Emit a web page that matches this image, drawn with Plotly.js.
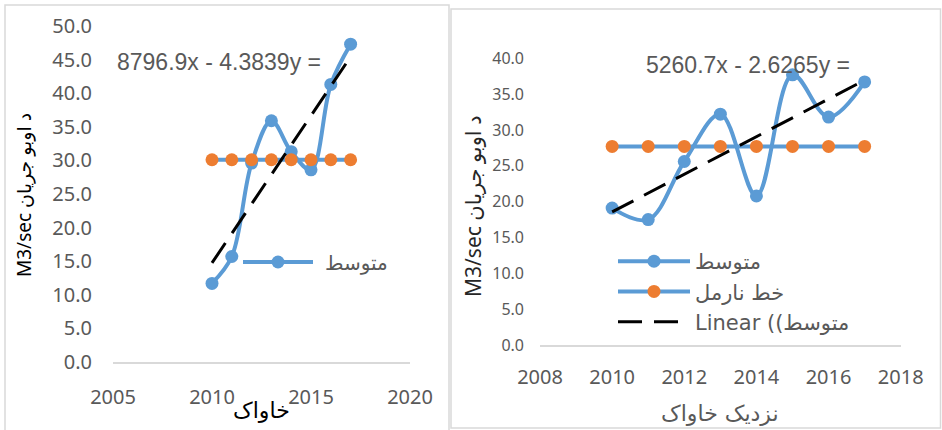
<!DOCTYPE html>
<html>
<head>
<meta charset="utf-8">
<script src="https://cdn.plot.ly/plotly-3.0.1.min.js"></script>
<style>html,body{margin:0;padding:0;background:#fff;}#chart{width:942px;height:430px;}</style>
</head>
<body>
<div id="chart"></div>
<script>
// ---- data ----
const years = [2010, 2011, 2012, 2013, 2014, 2015, 2016, 2017];
const leftMean = [11.7, 15.7, 29.6, 35.9, 31.3, 28.6, 41.3, 47.3];
const leftNormal = [30.1, 30.1, 30.1, 30.1, 30.1, 30.1, 30.1, 30.1];
const leftTrendCoef = [4.3839, -8796.9];   // slope, intercept (from the chart's equation)
const rightMean = [19.1, 17.5, 25.6, 32.2, 20.8, 37.7, 31.8, 36.7];
const rightNormal = [27.7, 27.7, 27.7, 27.7, 27.7, 27.7, 27.7, 27.7];
const rightTrendCoef = [2.6265, -5260.7];
const seriesNames = ['متوسط', 'خط نارمل', 'Linear ((متوسط'];
const leftEquation = '8796.9x - 4.3839y =';
const rightEquation = '5260.7x - 2.6265y =';
const yTitle = 'M3/sec د اوبو جریان';
const leftXTitle = 'خاواک';
const rightXTitle = 'نزدیک خاواک';

const trendX = [years[0], years[years.length - 1]];
const trendY = c => trendX.map(x => c[0] * x + c[1]);

const W = 942, H = 430;
const px = v => v / W, py = v => 1 - v / H;

const BLUE = '#5B9BD5', ORANGE = '#ED7D31', GRAY = '#595959';
const tickFont = {family: 'Noto Sans, DejaVu Sans, sans-serif', size: 20, color: GRAY};
const arFont = {family: 'DejaVu Sans, Noto Sans, sans-serif'};
const DASH = '24px,12px';

const traces = [
  {x: years, y: leftMean, xaxis: 'x', yaxis: 'y', mode: 'lines+markers', name: seriesNames[0],
   line: {color: BLUE, width: 4, shape: 'spline', smoothing: 1}, marker: {color: BLUE, size: 13},
   legend: 'legend'},
  {x: years, y: leftNormal, xaxis: 'x', yaxis: 'y', mode: 'lines+markers', name: seriesNames[1],
   line: {color: BLUE, width: 4}, marker: {color: ORANGE, size: 13}, showlegend: false},
  {x: trendX, y: trendY(leftTrendCoef), xaxis: 'x', yaxis: 'y', mode: 'lines', name: seriesNames[2],
   line: {color: '#000', width: 3, dash: DASH}, showlegend: false},
  {x: years, y: rightMean, xaxis: 'x2', yaxis: 'y2', mode: 'lines+markers', name: seriesNames[0],
   line: {color: BLUE, width: 4, shape: 'spline', smoothing: 1}, marker: {color: BLUE, size: 13},
   legend: 'legend2'},
  {x: years, y: rightNormal, xaxis: 'x2', yaxis: 'y2', mode: 'lines+markers', name: seriesNames[1],
   line: {color: BLUE, width: 4}, marker: {color: ORANGE, size: 13}, legend: 'legend2'},
  {x: trendX, y: trendY(rightTrendCoef), xaxis: 'x2', yaxis: 'y2', mode: 'lines', name: seriesNames[2],
   line: {color: '#000', width: 3, dash: DASH}, legend: 'legend2'}
];

const ann = (text, x, y, font, extra) => Object.assign({
  text: text, xref: 'paper', yref: 'paper', x: px(x), y: py(y), xanchor: 'center', yanchor: 'middle',
  showarrow: false, font: font}, extra || {});

const layout = {
  width: W, height: H,
  margin: {l: 0, r: 0, t: 0, b: 0},
  paper_bgcolor: '#fff', plot_bgcolor: 'rgba(0,0,0,0)',
  xaxis: {domain: [px(113), px(410)], range: [2005, 2020], dtick: 5, tick0: 2005,
          showgrid: false, zeroline: false, showline: true, linecolor: '#d9d9d9', linewidth: 1.5,
          ticks: '', tickfont: tickFont, ticklabelstandoff: 16, anchor: 'y', fixedrange: true},
  yaxis: {domain: [py(362), py(26)], range: [0, 50], dtick: 5, tickformat: '.1f',
          showgrid: false, zeroline: false, showline: false, ticks: '', tickfont: tickFont,
          ticklabelstandoff: 20, anchor: 'x', fixedrange: true},
  xaxis2: {domain: [px(540), px(900.7)], range: [2008, 2018], dtick: 2, tick0: 2008,
          showgrid: false, zeroline: false, showline: true, linecolor: '#d9d9d9', linewidth: 1.5,
          ticks: '', tickfont: tickFont, ticklabelstandoff: 13, anchor: 'y2', fixedrange: true},
  yaxis2: {domain: [py(345), py(58.3)], range: [0, 40], dtick: 5, tickformat: '.1f',
          showgrid: false, zeroline: false, showline: false, ticks: '',
          tickfont: Object.assign({}, tickFont, {size: 16}), ticklabelstandoff: 15, anchor: 'x2', fixedrange: true},
  legend: {x: px(238), xanchor: 'left', y: py(262), yanchor: 'middle', bgcolor: 'rgba(0,0,0,0)',
           font: Object.assign({}, arFont, {size: 20, color: GRAY}), itemwidth: 77, borderwidth: 0},
  legend2: {x: px(613), xanchor: 'left', y: py(291.5), yanchor: 'middle', bgcolor: 'rgba(0,0,0,0)',
           font: Object.assign({}, arFont, {size: 21, color: GRAY}), itemwidth: 72, borderwidth: 0},
  shapes: [
    {type: 'rect', xref: 'paper', yref: 'paper', x0: px(5), x1: px(449), y0: py(440), y1: py(5),
     line: {color: '#d9d9d9', width: 1.5}, layer: 'below'},
    {type: 'rect', xref: 'paper', yref: 'paper', x0: px(451), x1: px(940.5), y0: py(428), y1: py(9),
     line: {color: '#d9d9d9', width: 1.5}, layer: 'below'}
  ],
  annotations: [
    ann(leftEquation, 219, 62, {family: 'Liberation Sans, Arial, sans-serif', size: 23, color: GRAY}),
    ann(rightEquation, 748, 65, {family: 'Liberation Sans, Arial, sans-serif', size: 23, color: GRAY}),
    ann(yTitle, 24, 195, {family: 'Noto Sans, DejaVu Sans, sans-serif', size: 19, color: '#000'}, {textangle: -90}),
    ann(yTitle, 473, 206, {family: 'Noto Sans, DejaVu Sans, sans-serif', size: 21, color: '#262626'}, {textangle: -90}),
    ann(leftXTitle, 261, 410, Object.assign({}, arFont, {size: 22, color: '#000'})),
    ann(rightXTitle, 720, 413, Object.assign({}, arFont, {size: 22, color: GRAY}))
  ]
};

Plotly.newPlot('chart', traces, layout, {staticPlot: true, displayModeBar: false}).then(() => {
  // widen the legend symbols to match the long Excel-style legend keys
  document.querySelectorAll('.legend .traces').forEach(t => {
    t.querySelectorAll('.legendlines path').forEach(p => p.setAttribute('d', 'M5,0h70'));
    t.querySelectorAll('.legendpoints path').forEach(p => p.setAttribute('transform', 'translate(40,0)'));
  });
});
</script>
</body>
</html>
